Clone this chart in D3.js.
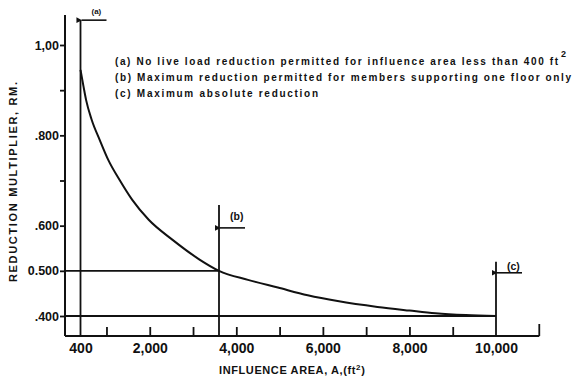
<!DOCTYPE html>
<html>
<head>
<meta charset="utf-8">
<script src="https://cdn.jsdelivr.net/npm/d3@7"></script>
<style>
  body { margin: 0; background: #fff; }
  svg { display: block; }
  text { font-family: "Liberation Sans", Arial, sans-serif; font-weight: bold; fill: #111; }
</style>
</head>
<body>
<script>
const curveArea = [400, 468, 530, 660, 843, 1044, 1304, 1596, 1976, 2535, 3150, 3600,
  4270, 4960, 5650, 6340, 7260, 8000, 8600, 9300, 10000];
const curveRM = [0.945, 0.909, 0.878, 0.834, 0.79, 0.745, 0.701, 0.657, 0.613, 0.568, 0.525, 0.5,
  0.48, 0.463, 0.446, 0.433, 0.42, 0.412, 0.406, 0.402, 0.4];

const xTickValues = [1000, 2000, 3000, 4000, 5000, 6000, 7000, 8000, 9000];
const xLabelValues = [400, 2000, 4000, 6000, 8000, 10000];
const xLabelText = ["400", "2,000", "4,000", "6,000", "8,000", "10,000"];

const yTickValues = [1.0, 0.9, 0.8, 0.7, 0.6, 0.5, 0.4];
const yTickText = ["1,00", "", ".800", "", ".600", "0.500", ".400"];

const limitArea = [400, 3600, 10000];
const limitLabel = ["(a)", "(b)", "(c)"];
const limitTopRM = [1.055, 0.646, 0.52];

const guideRM = [0.5, 0.4];
const guideEndArea = [3600, 10000];

const notes = [
  "(a) No live load reduction permitted for influence area less than 400 ft",
  "(b) Maximum reduction permitted for members supporting one floor only",
  "(c) Maximum absolute reduction"
];

const w = 572;
const h = 377;

const x = d3.scaleLinear().domain([400, 10000]).range([80.5, 496]);
const y = d3.scaleLinear().domain([0.4, 1.0]).range([316, 45]);
const axisX = 65;   // y axis position
const axisY = 336;  // x axis position

const svg = d3.select("body").append("svg").attr("width", w).attr("height", h);

const ink = "#111";

// axis lines
svg.append("line")
  .attr("x1", axisX).attr("x2", axisX).attr("y1", 15).attr("y2", axisY)
  .attr("stroke", ink).attr("stroke-width", 2);
svg.append("line")
  .attr("x1", axisX).attr("x2", x(11000)).attr("y1", axisY).attr("y2", axisY)
  .attr("stroke", ink).attr("stroke-width", 2);
// end tick at the right
svg.append("line")
  .attr("x1", x(11000)).attr("x2", x(11000)).attr("y1", axisY).attr("y2", axisY - 12)
  .attr("stroke", ink).attr("stroke-width", 1.8);

// x ticks (pointing up)
const gx = svg.append("g").attr("transform", `translate(0,${axisY})`)
  .call(d3.axisBottom(x).tickValues(xTickValues).tickSize(-9).tickFormat(""));
gx.select(".domain").remove();
gx.selectAll("line").attr("stroke", ink).attr("stroke-width", 1.8);

// x labels
const gxl = svg.append("g").attr("transform", `translate(0,${axisY})`)
  .call(d3.axisBottom(x).tickValues(xLabelValues).tickSize(0).tickPadding(7)
    .tickFormat((d, i) => xLabelText[i]));
gxl.select(".domain").remove();
gxl.selectAll("text")
  .attr("font-size", "14px")
  .attr("font-family", "Liberation Sans, Arial, sans-serif")
  .attr("font-weight", "bold")
  .attr("fill", ink);

// y axis
const gy = svg.append("g").attr("transform", `translate(${axisX},0)`)
  .call(d3.axisLeft(y).tickValues(yTickValues).tickSize(5).tickPadding(1)
    .tickFormat((d, i) => yTickText[i]));
gy.select(".domain").remove();
gy.selectAll("line").attr("stroke", ink).attr("stroke-width", 1.8);
gy.selectAll("text")
  .attr("font-size", "12.5px")
  .attr("font-family", "Liberation Sans, Arial, sans-serif")
  .attr("font-weight", "bold")
  .attr("fill", ink);

// horizontal guide lines
svg.selectAll("line.guide")
  .data(guideRM)
  .enter()
  .append("line")
  .attr("class", "guide")
  .attr("x1", axisX)
  .attr("x2", (d, i) => x(guideEndArea[i]))
  .attr("y1", (d) => y(d))
  .attr("y2", (d) => y(d))
  .attr("stroke", ink)
  .attr("stroke-width", 1.8);

// limit lines with bracket stubs
svg.append("defs").append("marker")
  .attr("id", "arr")
  .attr("viewBox", "0 0 10 10")
  .attr("refX", 1).attr("refY", 5)
  .attr("markerWidth", 4).attr("markerHeight", 3.5)
  .attr("orient", "auto-start-reverse")
  .append("path").attr("d", "M10,0 L0,5 L10,10 Z").attr("fill", ink);

const stubLen = 26;
// offset of the stub and label below the top of each limit line
const stubDrop = [0, 23, 11];
const labelDrop = [-6, 15, 8];

const lim = svg.selectAll("g.limit")
  .data(limitArea)
  .enter()
  .append("g")
  .attr("class", "limit");

lim.append("line")
  .attr("x1", (d) => x(d)).attr("x2", (d) => x(d))
  .attr("y1", (d, i) => y(limitTopRM[i])).attr("y2", axisY)
  .attr("stroke", ink).attr("stroke-width", 1.8);

lim.append("line")
  .attr("x1", (d) => x(d) + 1)
  .attr("x2", (d) => x(d) + stubLen)
  .attr("y1", (d, i) => y(limitTopRM[i]) + stubDrop[i])
  .attr("y2", (d, i) => y(limitTopRM[i]) + stubDrop[i])
  .attr("stroke", ink).attr("stroke-width", 1.6)
  .attr("marker-start", "url(#arr)");

lim.append("text")
  .attr("x", (d) => x(d) + 11)
  .attr("y", (d, i) => y(limitTopRM[i]) + labelDrop[i])
  .attr("font-size", (d, i) => i === 0 ? "8px" : "10.5px")
  .attr("fill", (d, i) => i === 0 ? "#666" : ink)
  .text((d, i) => limitLabel[i]);

// the curve
const line = d3.line()
  .x((d) => x(d[0]))
  .y((d) => y(d[1]))
  .curve(d3.curveMonotoneX);

svg.append("path")
  .datum(curveArea.map((a, i) => [a, curveRM[i]]))
  .attr("d", line)
  .attr("fill", "none")
  .attr("stroke", ink)
  .attr("stroke-width", 2);

// notes
const noteLen = [443, 456, 203];
const noteBase = [65, 81, 97];
svg.selectAll("text.note")
  .data(notes)
  .enter()
  .append("text")
  .attr("class", "note")
  .attr("x", 115)
  .attr("y", (d, i) => noteBase[i])
  .attr("font-size", "10px")
  .attr("textLength", (d, i) => noteLen[i])
  .attr("lengthAdjust", "spacing")
  .text((d) => d);

svg.append("text")
  .attr("x", 561).attr("y", 57)
  .attr("font-size", "9px")
  .text("2");

// axis titles
svg.append("text")
  .attr("transform", "translate(17,182) rotate(-90)")
  .attr("text-anchor", "middle")
  .attr("font-size", "11px")
  .attr("textLength", 200)
  .attr("lengthAdjust", "spacing")
  .text("REDUCTION MULTIPLIER, RM.");

const xt = svg.append("text")
  .attr("x", 219).attr("y", 374)
  .attr("font-size", "11px")
  .attr("letter-spacing", "0.6px");
xt.append("tspan").text("INFLUENCE AREA, A,(ft");
xt.append("tspan").attr("dy", -4).attr("font-size", "8px").text("2");
xt.append("tspan").attr("dy", 4).text(")");
</script>
</body>
</html>
